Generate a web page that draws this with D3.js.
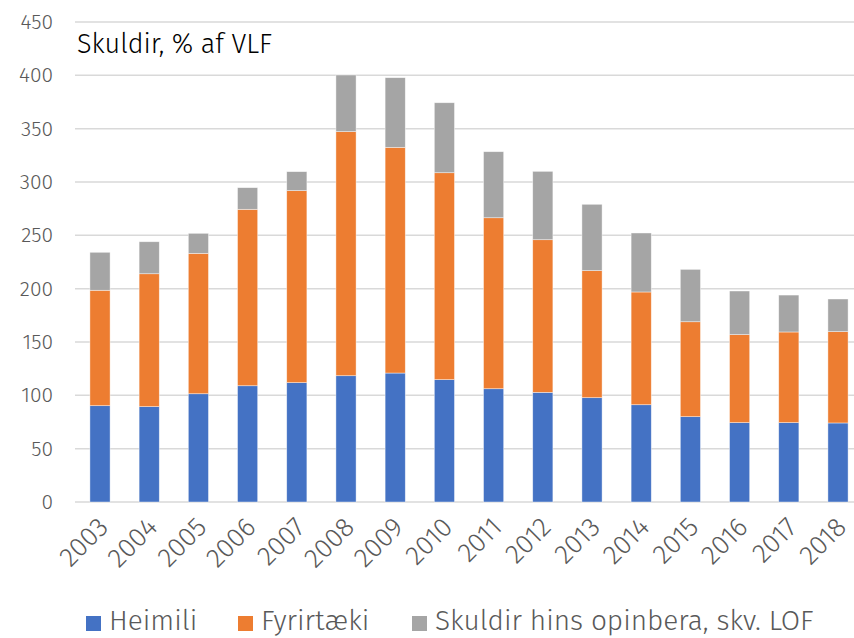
<!DOCTYPE html>
<html>
<head>
<meta charset="utf-8">
<script src="https://cdn.jsdelivr.net/npm/d3@7"></script>
<style>
  body { margin: 0; background: #fff; }
  text { font-family: "Fira Sans", "Open Sans", "Noto Sans", sans-serif; font-weight: 300; }
</style>
</head>
<body>
<script>
// data
var years = ["2003", "2004", "2005", "2006", "2007", "2008", "2009", "2010",
             "2011", "2012", "2013", "2014", "2015", "2016", "2017", "2018"];
var heimili = [90.3, 89.4, 101.5, 109, 111.9, 118.4, 120.9, 114.7,
               106.2, 102.8, 97.8, 91.2, 80, 74.4, 74.4, 74.1];
var fyrirtaeki = [108.2, 124.6, 131.6, 165.4, 180, 228.8, 211.6, 194,
                  160.3, 143.1, 119.1, 105.7, 89, 82.5, 85, 85.6];
var opinbera = [35.6, 30, 18.8, 20.3, 17.8, 53.1, 65.3, 65.6,
                61.9, 64.1, 62.2, 55.3, 49.1, 40.9, 34.6, 30.6];
var seriesNames = ["Heimili", "Fyrirtæki", "Skuldir hins opinbera, skv. LOF"];
var colors = ["#4472C4", "#ED7D31", "#A5A5A5"];
var yTicks = [0, 50, 100, 150, 200, 250, 300, 350, 400, 450];

var width = 854, height = 638;

var svg = d3.select("body")
            .append("svg")
            .attr("width", width)
            .attr("height", height);

var x = d3.scaleBand()
          .domain(years)
          .range([75.4, 862.6])
          .padding(0);

var y = d3.scaleLinear()
          .domain([0, 450])
          .range([502, 22]);

// gridlines
svg.append("g")
   .selectAll("line")
   .data(yTicks)
   .enter()
   .append("line")
   .attr("x1", 75)
   .attr("x2", width)
   .attr("y1", function(d) { return y(d); })
   .attr("y2", function(d) { return y(d); })
   .style("stroke", "#D9D9D9")
   .style("stroke-width", 1.5);

// y tick labels
svg.append("g")
   .selectAll("text")
   .data(yTicks)
   .enter()
   .append("text")
   .attr("x", 53)
   .attr("y", function(d) { return y(d) + 7; })
   .attr("text-anchor", "end")
   .style("font-size", "21px")
   .style("fill", "#595959")
   .text(function(d) { return d; });

// stack the three series
var rows = years.map(function(yr, i) {
    return { year: yr, a: heimili[i], b: fyrirtaeki[i], c: opinbera[i] };
});
var stack = d3.stack().keys(["a", "b", "c"]);
var layers = stack(rows);

var barW = x.step() * 0.41;

svg.append("g")
   .selectAll("g")
   .data(layers)
   .enter()
   .append("g")
   .style("fill", function(d, i) { return colors[i]; })
   .selectAll("rect")
   .data(function(d) { return d; })
   .enter()
   .append("rect")
   .attr("x", function(d) { return x(d.data.year) + (x.step() - barW) / 2; })
   .attr("y", function(d) { return y(d[1]); })
   .attr("width", barW)
   .attr("height", function(d) { return y(d[0]) - y(d[1]); })
   .style("stroke", "#fff")
   .style("stroke-opacity", 0.6)
   .style("stroke-width", 0.7);

// x labels, rotated
svg.append("g")
   .selectAll("text")
   .data(years)
   .enter()
   .append("text")
   .attr("transform", function(d) {
       var cx = x(d) + x.step() / 2 + 3;
       return "translate(" + cx + ",522) rotate(-45)";
   })
   .attr("text-anchor", "end")
   .attr("dy", "0.35em")
   .style("font-size", "27px")
   .style("fill", "#595959")
   .text(function(d) { return d; });

// title
svg.append("text")
   .attr("x", 77)
   .attr("y", 53)
   .style("font-size", "27px")
   .style("fill", "#000")
   .text("Skuldir, % af VLF");

// legend
var legendX = [86, 238, 412];
var legend = svg.append("g")
                .selectAll("g")
                .data(seriesNames)
                .enter()
                .append("g")
                .attr("transform", function(d, i) { return "translate(" + legendX[i] + ",0)"; });

legend.append("rect")
      .attr("x", 0)
      .attr("y", 616)
      .attr("width", 15)
      .attr("height", 15)
      .style("fill", function(d, i) { return colors[i]; });

legend.append("text")
      .attr("x", 23)
      .attr("y", 630)
      .style("font-size", "28px")
      .style("fill", "#595959")
      .text(function(d) { return d; });
</script>
</body>
</html>
